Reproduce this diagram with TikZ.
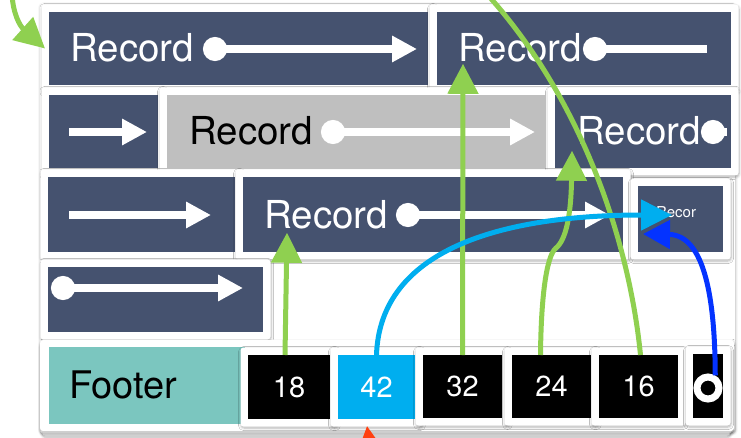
\documentclass[tikz,border=0pt]{standalone}
\usepackage{fontspec}
\setmainfont{TeX Gyre Heros}
\usetikzlibrary{arrows.meta,shadows.blur}

\definecolor{slate}{RGB}{69,82,111}
\definecolor{paneGrey}{RGB}{191,191,191}
\definecolor{footTeal}{RGB}{123,198,191}
\definecolor{sky}{RGB}{0,174,239}
\definecolor{linkGreen}{RGB}{143,208,80}
\definecolor{linkBlue}{RGB}{4,51,255}
\definecolor{linkRed}{RGB}{255,64,16}

\tikzset{
  card/.style={fill=white, rounded corners=3pt, inner sep=0pt, outer sep=0pt,
    blur shadow={shadow blur steps=6, shadow xshift=0.5pt, shadow yshift=-1.5pt,
                 shadow opacity=30, shadow blur radius=2.5pt}},
  pane/.style={inner sep=0pt, outer sep=0pt},
  dark/.style={pane, fill=slate},
  grey/.style={pane, fill=paneGrey},
  num/.style={pane, fill=black, text=white, font=\fontsize{29}{30}\selectfont},
  rectext/.style={anchor=base west, inner sep=0pt, text=white,
    font=\fontsize{38.5}{40}\selectfont},
  inarrow/.style={draw=white, line width=8pt},
  bigtip/.tip={Triangle[length=25pt,width=25pt]},
  dot/.tip={Circle[length=24pt]},
  greenline/.style={draw=linkGreen, line width=5pt},
  greenlink/.style={greenline, -{Triangle[length=30pt,width=30pt]}},
  skylink/.style={draw=sky, line width=5pt, -{Triangle[length=31pt,width=30pt]}},
  bluelink/.style={draw=linkBlue, line width=5pt, -{Triangle[length=27pt,width=28pt]}},
  redlink/.style={draw=linkRed, line width=5pt, -{Triangle[length=30pt,width=30pt]}},
}

% framed pane: name, x1, y1, x2, y2, style, text
\newcommand\panel[7]{%
  \pgfmathsetmacro\pnx{(#2+#4)/2}%
  \pgfmathsetmacro\pny{(#3+#5)/2}%
  \pgfmathsetmacro\pnw{#4-#2}%
  \pgfmathsetmacro\pnh{#5-#3}%
  \node[card, minimum width=\pnw pt+15pt, minimum height=\pnh pt+15pt] (#1-card) at (\pnx,\pny) {};
  \node[#6, minimum width=\pnw pt, minimum height=\pnh pt] (#1) at (\pnx,\pny) {#7};
}

\begin{document}
\begin{tikzpicture}[x=1pt,y=-1pt]
\useasboundingbox (0,0) rectangle (741,438);
\begin{scope}
\clip (0,0) rectangle (741,438);

% sheet holding the list
\node[card, minimum width=695pt, minimum height=429pt] (sheet) at (387.5,217.5) {};

% row 1
\panel{recA}{49}{12}{428}{85}{dark}{}
\panel{recB}{437}{12}{731}{85}{dark}{}
% row 2
\panel{arrS}{49}{95}{158}{168}{dark}{}
\panel{recG}{167}{95}{545}{168}{grey}{}
\panel{recC}{555}{95}{731}{168}{dark}{}
% row 3
\panel{arrM}{48}{177}{235}{252}{dark}{}
\panel{recD}{243}{177}{623}{252}{dark}{}
\panel{recE}{638}{186}{723}{252}{dark}{}
% row 4
\panel{arrL}{48}{267}{263}{332}{dark}{}

% footer stack
\node[card, draw=black!12, line width=0.5pt, minimum width=688pt, minimum height=90pt] (stack2) at (386,391) {};
\node[card, draw=black!12, line width=0.5pt, minimum width=692pt, minimum height=90pt] (stack1) at (386,388) {};
\node[card, minimum width=694pt, minimum height=91pt] (footer-card) at (387,385.5) {};
\node[pane, fill=footTeal, minimum width=196pt, minimum height=77pt] (foot) at (147,385.5) {};
\node[anchor=base west, inner sep=0pt, font=\fontsize{38}{40}\selectfont] (foot-t) at (69,398) {Footer};

\panel{n18}{248}{355}{330}{419}{num}{18}
\panel{n42}{338}{355}{415}{419}{num, fill=sky}{42}
\panel{n32}{423}{355}{502}{418}{num}{32}
\panel{n24}{512}{355}{591}{418}{num}{24}
\panel{n16}{599}{355}{678}{418}{num}{16}
\panel{nEnd}{693}{354}{723}{418}{num}{}
\node[circle, draw=white, line width=7pt, fill=black, minimum size=22pt, inner sep=0pt] (ring) at (708,388) {};

% record labels
\node[rectext] (recA-t) at (70,62) {Record};
\node[rectext] (recB-t) at (458,62) {Record};
\node[rectext, text=black] (recG-t) at (189,145) {Record};
\node[rectext] (recC-t) at (577,145) {Record};
\node[rectext] (recD-t) at (264,229) {Record};
\node[anchor=north west, inner sep=0pt, align=left, text=white,
      font=\fontsize{15}{18}\selectfont] (recE-t) at (656,206) {Recor\\d};

% pointer glyphs inside the panes
\draw[inarrow, dot-bigtip] (203,49) -- (417,49);
\draw[inarrow, dot-] (583,49) -- (707,49);
\draw[inarrow, -bigtip] (69,132) -- (147,132);
\draw[inarrow, dot-bigtip] (321,132) -- (535,132);
\draw[inarrow, dot-] (701,132) -- (727,132);
\draw[inarrow, -bigtip] (69,215) -- (211,215);
\draw[inarrow, dot-bigtip] (396,215) -- (610,215);
\draw[inarrow, dot-bigtip] (51,288) -- (243,288);

% links
\coordinate (g4end) at (485,-8);
\coordinate (g5start) at (12,-6);
\coordinate (redstart) at (373,470);

\draw[greenlink] ([xshift=-4pt]n18.north) -- ([xshift=23pt,yshift=-3pt]recD-t.south west);
\draw[greenlink] (n32.north) -- ([xshift=5pt,yshift=-1pt]recB-t.south west);
\draw[greenlink] ([xshift=-11pt]n24.north) .. controls (541,300) and (546,256) .. (556,248)
   .. controls (566,240) and (571,215) .. ([xshift=-5pt,yshift=-5pt]recC-t.south west);
\draw[greenline] ([xshift=2pt]n16.north) .. controls (628,230) and (575,90) .. (g4end);
\draw[greenlink] (g5start) .. controls (13,14) and (20,26) .. ([xshift=-4pt]recA.west);

\draw[bluelink] (ring.60) .. controls (715,300) and (705,235) .. ([xshift=5pt,yshift=-15pt]recE.west);
\draw[skylink] (n42.north) .. controls (380,250) and (500,215) .. ([xshift=34pt,yshift=4pt]recE.west);
\draw[redlink] (redstart) -- ([xshift=-9.5pt,yshift=-7pt]n42.south);
\end{scope}
\end{tikzpicture}
\end{document}
